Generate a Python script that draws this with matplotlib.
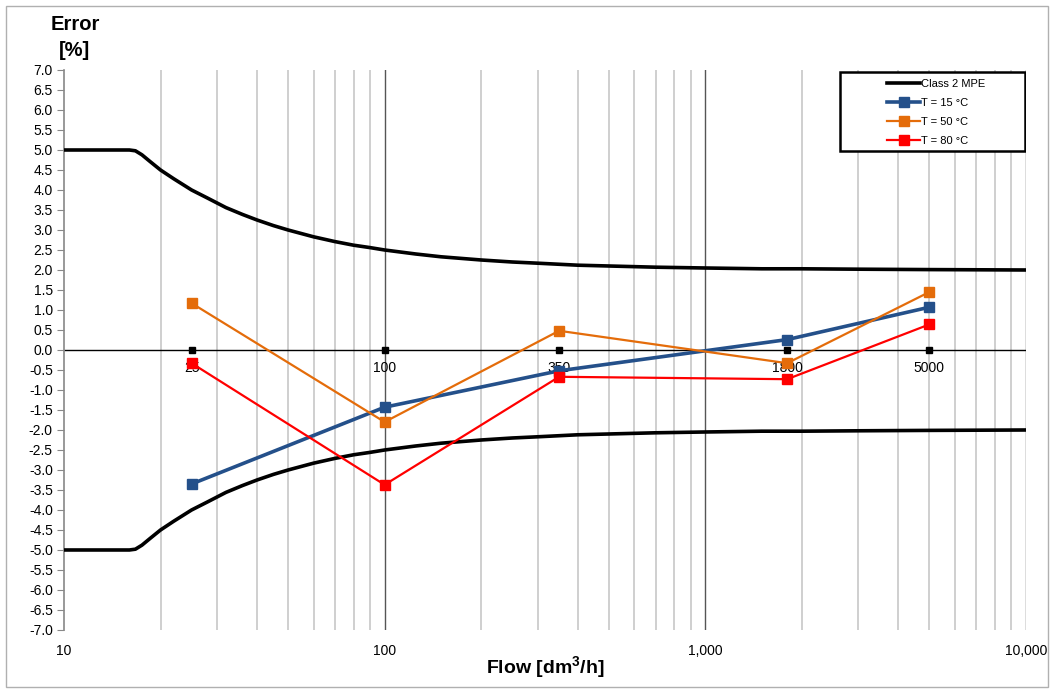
import numpy as np
import matplotlib.pyplot as plt
from matplotlib.ticker import FixedLocator, FuncFormatter, NullFormatter
from matplotlib.patches import Rectangle

plt.rcParams['font.family'] = ['Liberation Sans', 'DejaVu Sans']

# MPE envelope
mpe_q = [10, 16, 16.7, 17.5, 18.5, 20, 22, 25, 28, 32, 36, 40, 45, 50, 60, 70, 80, 90,
         100, 125, 150, 200, 250, 300, 400, 500, 700, 1000, 1500, 2000, 3000, 5000, 10000]
mpe_up = [5.0, 5.0, 4.98, 4.88, 4.72, 4.5, 4.28, 4.0, 3.8, 3.56, 3.39, 3.25, 3.11, 3.0, 2.83,
          2.71, 2.62, 2.56, 2.5, 2.4, 2.33, 2.25, 2.2, 2.17, 2.12, 2.1, 2.07, 2.05, 2.03,
          2.03, 2.02, 2.01, 2.0]
mpe_lo = [-v for v in mpe_up]

flow = [25, 100, 350, 1800, 5000]
flow_labels = ['25', '100', '350', '1800', '5000']
err_15 = [-3.35, -1.43, -0.52, 0.26, 1.07]
err_50 = [1.17, -1.80, 0.48, -0.33, 1.45]
err_80 = [-0.33, -3.37, -0.67, -0.73, 0.64]

fig = plt.figure(figsize=(10.54, 6.91), dpi=100, facecolor='white')
ax = fig.add_axes([0.0607, 0.0883, 0.9127, 0.8104])

ax.set_xscale('log')
ax.set_xlim(10, 10000)
ax.set_ylim(-7, 7)

# grid
minor = [m * d for d in (10, 100, 1000) for m in range(2, 10)]
for x in minor:
    ax.axvline(x, color='#cccccc', lw=1.3, zorder=0)
for x in (100, 1000, 10000):
    ax.axvline(x, color='#555555', lw=1.0, zorder=0)
ax.axhline(0, color='black', lw=1.0, zorder=1)

ax.plot(mpe_q, mpe_up, color='black', lw=2.6, label='Class 2 MPE', zorder=3)
ax.plot(mpe_q, mpe_lo, color='black', lw=2.6, zorder=3)
ax.plot(flow, err_15, color='#24508a', lw=2.6, marker='s', ms=7, label='T = 15 °C', zorder=4)
ax.plot(flow, err_50, color='#e46c0a', lw=1.6, marker='s', ms=7, label='T = 50 °C', zorder=4)
ax.plot(flow, err_80, color='#ff0000', lw=1.6, marker='s', ms=7, label='T = 80 °C', zorder=4)

# test points on zero line
ax.plot(flow, [0] * len(flow), ls='none', marker='s', ms=4, color='black', zorder=5)
for q, lab in zip(flow, flow_labels):
    ax.annotate(lab, (q, 0), xytext=(0, -13), textcoords='offset points',
                ha='center', va='center', fontsize=10, zorder=2)

ax.yaxis.set_major_locator(FixedLocator(np.arange(-7, 7.01, 0.5)))
ax.yaxis.set_major_formatter(FuncFormatter(lambda v, p: f'{v:.1f}'))
ax.xaxis.set_major_locator(FixedLocator([10, 100, 1000, 10000]))
ax.xaxis.set_major_formatter(FuncFormatter(lambda v, p: f'{v:,.0f}'))
ax.xaxis.set_minor_formatter(NullFormatter())
ax.tick_params(axis='x', which='both', length=0, pad=10, labelsize=10)
ax.tick_params(axis='y', length=5, color='#888888', labelsize=10, pad=3)

for s in ('top', 'right', 'bottom'):
    ax.spines[s].set_visible(False)
ax.spines['left'].set_color('#888888')
ax.spines['left'].set_linewidth(1.2)

ax.set_xlabel('Flow [dm$\\mathregular{^3}$/h]', fontsize=14, fontweight='bold', labelpad=-3)
fig.text(0.071, 0.978, 'Error\n[%]', ha='center', va='top', fontsize=14.5,
         fontweight='bold', linespacing=1.45)

# legend box drawn by hand, entries without frame
ax.add_patch(Rectangle((0.807, 0.855), 0.192, 0.141, transform=ax.transAxes,
                       facecolor='white', edgecolor='black', lw=1.8, zorder=9))
leg = ax.legend(loc='upper left', bbox_to_anchor=(0.852, 0.99), fontsize=8,
                frameon=False, borderpad=0.3, labelspacing=0.82,
                handlelength=3.0, handletextpad=0.1, borderaxespad=0)
leg.set_zorder(10)

fig.patches.append(Rectangle((0.006, 0.006), 0.988, 0.986, transform=fig.transFigure,
                             fill=False, edgecolor='#b0b0b0', lw=1))

fig.savefig('out.png', dpi=100)
